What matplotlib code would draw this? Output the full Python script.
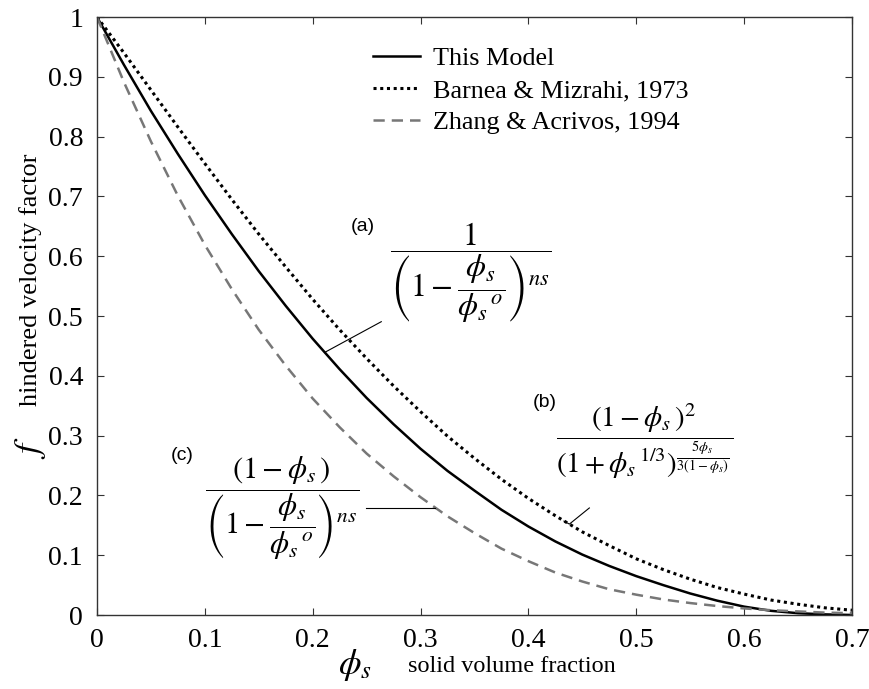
import matplotlib
matplotlib.use('Agg')
import matplotlib.pyplot as plt

plt.rcParams['font.family'] = 'Liberation Serif'
plt.rcParams['mathtext.fontset'] = 'stix'

# solid volume fraction
phi = [0.0, 0.025, 0.05, 0.075, 0.1, 0.125, 0.15, 0.175, 0.2, 0.225, 0.25, 0.275,
       0.3, 0.325, 0.35, 0.375, 0.4, 0.425, 0.45, 0.475, 0.5, 0.525, 0.55, 0.575,
       0.6, 0.625, 0.65, 0.675, 0.7]

# hindered velocity factor for each model
f_model = [1.0, 0.920, 0.843, 0.771, 0.702, 0.637, 0.575, 0.517, 0.462, 0.411, 0.363, 0.319,
           0.278, 0.241, 0.208, 0.176, 0.148, 0.123, 0.101, 0.082, 0.065, 0.050, 0.036, 0.024,
           0.014, 0.007, 0.003, 0.001, 0.0]
f_barnea = [1.0, 0.940, 0.878, 0.816, 0.755, 0.695, 0.637, 0.582, 0.528, 0.477, 0.429, 0.383,
            0.340, 0.299, 0.262, 0.227, 0.195, 0.166, 0.139, 0.116, 0.094, 0.076, 0.060, 0.046,
            0.035, 0.025, 0.018, 0.012, 0.008]
f_zhang = [1.0, 0.891, 0.792, 0.701, 0.619, 0.545, 0.477, 0.417, 0.362, 0.314, 0.270, 0.232,
           0.197, 0.165, 0.137, 0.111, 0.090, 0.071, 0.056, 0.043, 0.034, 0.026, 0.020, 0.015,
           0.011, 0.008, 0.006, 0.004, 0.003]

labels = ['This Model', 'Barnea & Mizrahi, 1973', 'Zhang & Acrivos, 1994']

x_ticks = [0, 0.1, 0.2, 0.3, 0.4, 0.5, 0.6, 0.7]
x_tick_labels = ['0', '0.1', '0.2', '0.3', '0.4', '0.5', '0.6', '0.7']
y_ticks = [0, 0.1, 0.2, 0.3, 0.4, 0.5, 0.6, 0.7, 0.8, 0.9, 1.0]
y_tick_labels = ['0', '0.1', '0.2', '0.3', '0.4', '0.5', '0.6', '0.7', '0.8', '0.9', '1']

fig = plt.figure(figsize=(8.69, 6.89), dpi=100)
ax = fig.add_axes([0.1116, 0.1074, 0.8688, 0.8679])

ax.plot(phi, f_model, color='black', lw=1.8, label=labels[0])
ax.plot(phi, f_barnea, color='black', lw=2.2, linestyle=(0, (1.0, 1.2)), label=labels[1])
ax.plot(phi, f_zhang, color='#777777', lw=1.8, linestyle=(0, (4.5, 2.8)), label=labels[2])

ax.set_xlim(0, 0.7)
ax.set_ylim(0, 1)
ax.set_xticks(x_ticks)
ax.set_xticklabels(x_tick_labels)
ax.set_yticks(y_ticks)
ax.set_yticklabels(y_tick_labels)
ax.tick_params(direction='in', top=True, right=True, length=5, width=0.8,
               labelsize=20, pad=9, color='#333333')
ax.tick_params(axis='y', pad=10)
for sp in ax.spines.values():
    sp.set_linewidth(1.0)
    sp.set_color('#333333')

ax.legend(loc='upper left', bbox_to_anchor=(0.366, 0.950), frameon=False,
          fontsize=18.8, handlelength=1.8, handletextpad=0.5, labelspacing=0.33,
          borderpad=0, borderaxespad=0)

# formula (a) for this model
ax.text(0.2463, 0.649, '(a)', family='Liberation Sans', fontsize=14, ha='center', va='center')
ax.text(0.2713, 0.6605,
        r'$\dfrac{1}{\left(1-\dfrac{\phi_s}{{\phi_s}^{\,o}}\right)^{ns}}$',
        fontsize=23, ha='left', va='top')
ax.plot([0.211, 0.2636], [0.439, 0.4905], color='black', lw=0.8)

# formula (b) Barnea & Mizrahi
ax.text(0.4148, 0.356, '(b)', family='Liberation Sans', fontsize=14, ha='center', va='center')
ax.text(0.4259, 0.3562,
        r'$\dfrac{(1-\phi_s\,)^2}{(1+{\phi_s}^{\,1/3})^{\frac{5\phi_s}{3(1-\phi_s)}}}$',
        fontsize=21, ha='left', va='top')
ax.plot([0.433, 0.438, 0.4565], [0.157, 0.152, 0.179], color='black', lw=0.8)

# formula (c) Zhang & Acrivos
ax.text(0.0787, 0.266, '(c)', family='Liberation Sans', fontsize=14, ha='center', va='center')
ax.text(0.1000, 0.2676,
        r'$\dfrac{(1-\phi_s\,)}{\left(1-\dfrac{\phi_s}{{\phi_s}^{\,o}}\right)^{ns}}$',
        fontsize=22, ha='left', va='top')
ax.plot([0.249, 0.313], [0.179, 0.179], color='black', lw=0.8)

# axis titles
fig.text(355 / 869, 1 - 665 / 689, r'$\phi_s$', fontsize=26, ha='center', va='center')
fig.text(408 / 869, 1 - 667 / 689, 'solid volume fraction', fontsize=17.5, ha='left', va='center')
fig.text(30 / 869, 1 - 448 / 689, r'$f$', fontsize=26, ha='center', va='center', rotation=90)
fig.text(31 / 869, 1 - 280 / 689, 'hindered velocity factor', fontsize=19,
         ha='center', va='center', rotation=90)

fig.savefig('out.png', dpi=100)
